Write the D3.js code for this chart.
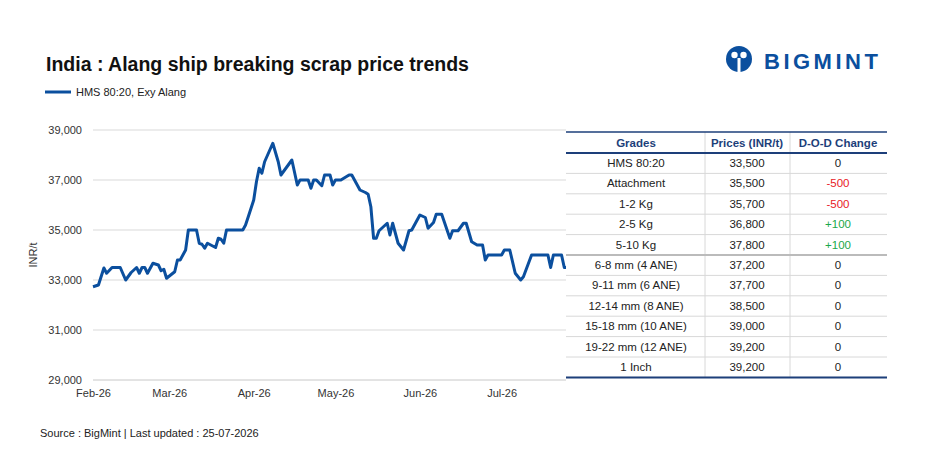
<!DOCTYPE html>
<html>
<head>
<meta charset="utf-8">
<script src="https://cdn.jsdelivr.net/npm/d3@7"></script>
<style>
body{margin:0;background:#fff;font-family:"Liberation Sans",Arial,sans-serif;}
</style>
</head>
<body>
<svg id="chart" width="935" height="456"></svg>
<script>
// data
var dates = ["2026-02-01","2026-02-03","2026-02-05","2026-02-06","2026-02-08","2026-02-11","2026-02-13","2026-02-15","2026-02-17","2026-02-18","2026-02-19","2026-02-20","2026-02-21","2026-02-23","2026-02-25","2026-02-26","2026-02-27","2026-02-28",
"2026-03-03","2026-03-04","2026-03-05","2026-03-07","2026-03-08","2026-03-11","2026-03-12","2026-03-13","2026-03-14","2026-03-15","2026-03-18","2026-03-19","2026-03-20","2026-03-21","2026-03-22","2026-03-28","2026-03-29","2026-03-30",
"2026-04-01","2026-04-02","2026-04-03","2026-04-04","2026-04-05","2026-04-08","2026-04-10","2026-04-11","2026-04-15","2026-04-17","2026-04-18","2026-04-21","2026-04-22","2026-04-23","2026-04-24","2026-04-26","2026-04-27","2026-04-29","2026-04-30",
"2026-05-01","2026-05-02","2026-05-03","2026-05-06","2026-05-07","2026-05-10","2026-05-12","2026-05-13","2026-05-14","2026-05-15","2026-05-16","2026-05-17","2026-05-20","2026-05-21","2026-05-22","2026-05-24","2026-05-26","2026-05-28","2026-05-29",
"2026-06-01","2026-06-03","2026-06-04","2026-06-06","2026-06-07","2026-06-09","2026-06-12","2026-06-13","2026-06-15","2026-06-17","2026-06-18","2026-06-20","2026-06-22","2026-06-24","2026-06-25","2026-06-26",
"2026-07-01","2026-07-02","2026-07-04","2026-07-06","2026-07-08","2026-07-09","2026-07-12","2026-07-18","2026-07-19","2026-07-20","2026-07-23","2026-07-24","2026-07-25"];
var prices = [32730,32800,33480,33270,33500,33500,33000,33300,33500,33270,33500,33500,33270,33670,33600,33370,33430,33070,
33330,33800,33800,34200,35000,35000,34470,34430,34270,34470,34300,34670,34630,34470,35000,35000,35200,35530,
36200,36930,37470,37270,37730,38470,37730,37200,37800,36800,37000,37000,36670,37000,37000,36770,37200,37200,36800,
37000,37000,37000,37200,37200,36600,36500,36430,35930,34670,34670,34970,35270,34800,35270,34470,34200,34970,35000,
35600,35500,35070,35300,35630,35630,34670,34970,34970,35270,35270,34530,34400,34400,33800,34000,
34000,34200,34200,33270,33000,33130,34000,34000,33500,34000,34000,33500,33500];
var yTicks = [29000,31000,33000,35000,37000,39000];

var grades = ["HMS 80:20","Attachment","1-2 Kg","2-5 Kg","5-10 Kg","6-8 mm (4 ANE)","9-11 mm (6 ANE)","12-14 mm (8 ANE)","15-18 mm (10 ANE)","19-22 mm (12 ANE)","1 Inch"];
var gradePrices = [33500,35500,35700,36800,37800,37200,37700,38500,39000,39200,39200];
var changes = [0,-500,-500,100,100,0,0,0,0,0,0];

var blue = "#0b4f9e", navy = "#1d3f7a";
var svg = d3.select("#chart");
var parse = d3.timeParse("%Y-%m-%d");
var data = dates.map((d,i)=>({date:parse(d), v:prices[i]}));

var x = d3.scaleTime().domain([parse("2026-02-01"), parse("2026-07-25")]).range([93,567]);
var y = d3.scaleLinear().domain([29000,39000]).range([380,130]);

// title + legend
svg.append("text").attr("x",46).attr("y",71).attr("font-size",19.5).attr("font-weight","bold").attr("fill","#111")
  .text("India : Alang ship breaking scrap price trends");
svg.append("line").attr("x1",45).attr("x2",71).attr("y1",92).attr("y2",92).attr("stroke",blue).attr("stroke-width",3);
svg.append("text").attr("x",76).attr("y",96).attr("font-size",11).attr("fill","#222").text("HMS 80:20, Exy Alang");

// logo
var lg = svg.append("g").attr("transform","translate(739,59)");
lg.append("circle").attr("r",13).attr("fill",blue);
lg.append("circle").attr("cx",-4.5).attr("cy",-4).attr("r",3.2).attr("fill","#fff");
lg.append("circle").attr("cx",4.5).attr("cy",-4).attr("r",3.2).attr("fill","#fff");
lg.append("rect").attr("x",-1.5).attr("y",-1).attr("width",3).attr("height",14).attr("fill","#fff");
svg.append("text").attr("x",764).attr("y",69).attr("font-size",22).attr("font-weight","bold").attr("fill",blue)
  .attr("letter-spacing",3.5).text("BIGMINT");

// grid + axes
svg.append("g").selectAll("line").data(yTicks).join("line")
  .attr("x1",93).attr("x2",566).attr("y1",d=>y(d)).attr("y2",d=>y(d))
  .attr("stroke",d=>d===29000?"#c8c8c8":"#d9d9d9").attr("stroke-width",1);
svg.append("g").selectAll("text").data(yTicks).join("text")
  .attr("x",82).attr("y",d=>y(d)+4).attr("text-anchor","end").attr("font-size",11).attr("fill","#333")
  .text(d3.format(","));
var xa = svg.append("g").attr("transform","translate(0,380)")
  .call(d3.axisBottom(x).ticks(d3.timeMonth.every(1)).tickFormat(d3.timeFormat("%b-26")).tickSize(0).tickPadding(9));
xa.select(".domain").remove();
xa.selectAll("text").attr("font-size",11).attr("fill","#333").attr("font-family","Liberation Sans, Arial");
svg.append("text").attr("transform","translate(37,255)rotate(-90)").attr("text-anchor","middle")
  .attr("font-size",11).attr("fill","#333").text("INR/t");

svg.append("path").datum(data).attr("fill","none").attr("stroke",blue).attr("stroke-width",3)
  .attr("stroke-linejoin","round")
  .attr("d",d3.line().x(d=>x(d.date)).y(d=>y(d.v)));

// table
var tx0=566, tx1=887, c1=705, c2=790, tTop=132, hh=21, rh=20.4;
var tb = svg.append("g");
tb.append("rect").attr("x",tx0).attr("y",tTop).attr("width",tx1-tx0).attr("height",hh+rh*grades.length).attr("fill","#fff");
[c1,c2].forEach(c=>tb.append("line").attr("x1",c).attr("x2",c).attr("y1",tTop).attr("y2",tTop+hh+rh*grades.length).attr("stroke","#d8d8d8"));
var heads=[["Grades",636],["Prices (INR/t)",747],["D-O-D Change",838]];
heads.forEach(h=>tb.append("text").attr("x",h[1]).attr("y",tTop+15).attr("text-anchor","middle")
  .attr("font-size",11.5).attr("font-weight","bold").attr("fill",navy).text(h[0]));
grades.forEach((g,i)=>{
  var ry = tTop+hh+rh*i;
  tb.append("line").attr("x1",tx0).attr("x2",tx1).attr("y1",ry+rh).attr("y2",ry+rh)
    .attr("stroke",i===4?"#bbb":"#d8d8d8").attr("stroke-width",i===4?2:1);
  tb.append("text").attr("x",636).attr("y",ry+14).attr("text-anchor","middle").attr("font-size",11.5).attr("fill","#222").text(g);
  tb.append("text").attr("x",747).attr("y",ry+14).attr("text-anchor","middle").attr("font-size",11.5).attr("fill","#222").text(d3.format(",")(gradePrices[i]));
  var c=changes[i];
  tb.append("text").attr("x",838).attr("y",ry+14).attr("text-anchor","middle").attr("font-size",11.5)
    .attr("fill",c<0?"#e8201f":c>0?"#1aa84a":"#222").text(c>0?"+"+c:c);
});
tb.append("line").attr("x1",tx0).attr("x2",tx1).attr("y1",tTop).attr("y2",tTop).attr("stroke",navy).attr("stroke-width",1.5);
tb.append("line").attr("x1",tx0).attr("x2",tx1).attr("y1",tTop+hh).attr("y2",tTop+hh).attr("stroke",navy).attr("stroke-width",2);
tb.append("line").attr("x1",tx0).attr("x2",tx1).attr("y1",tTop+hh+rh*grades.length).attr("y2",tTop+hh+rh*grades.length).attr("stroke",navy).attr("stroke-width",2);

svg.append("text").attr("x",40).attr("y",437).attr("font-size",11).attr("fill","#222")
  .text("Source : BigMint | Last updated : 25-07-2026");
</script>
</body>
</html>
